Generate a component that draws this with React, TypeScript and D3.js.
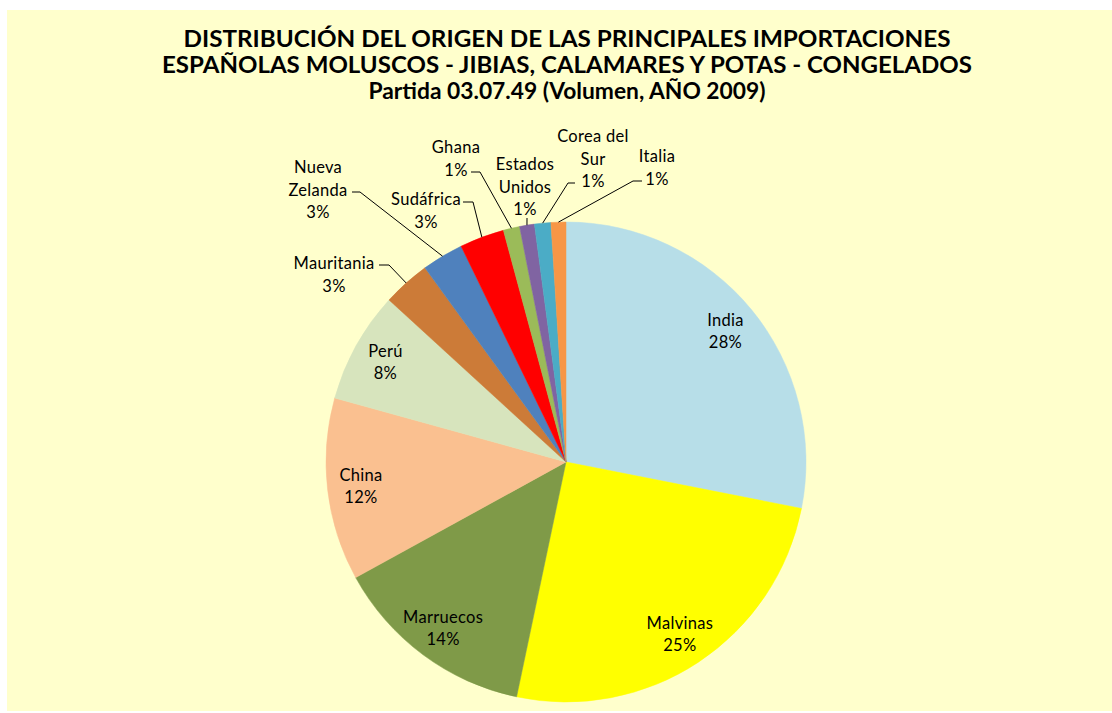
import React from "react";
import * as d3 from "d3";

const titleLines = [
  "DISTRIBUCIÓN DEL ORIGEN DE LAS PRINCIPALES IMPORTACIONES",
  "ESPAÑOLAS MOLUSCOS - JIBIAS, CALAMARES Y POTAS - CONGELADOS",
  "Partida 03.07.49 (Volumen, AÑO 2009)",
];
const titleWidths = [767, 810, 397];

const categories = [
  "India",
  "Malvinas",
  "Marruecos",
  "China",
  "Perú",
  "Mauritania",
  "Nueva Zelanda",
  "Sudáfrica",
  "Ghana",
  "Estados Unidos",
  "Corea del Sur",
  "Italia",
];

const values = [28.1, 25.2, 13.7, 12.3, 7.5, 3.2, 2.8, 3.0, 1.1, 1.0, 1.1, 1.0];

const colors = [
  "#B7DEE8",
  "#FFFF00",
  "#7F9A48",
  "#FAC090",
  "#D7E4BD",
  "#CC7B38",
  "#4F81BD",
  "#FF0000",
  "#9BBB59",
  "#8064A2",
  "#4BACC6",
  "#F79646",
];

// layout (annotation placement only)
const W = 1112;
const H = 713;
const CX = 566;
const CY = 462;
const R = 240;
const FONT = "Lato, 'Liberation Sans', sans-serif";
const LINE_H = 22.5;
const LABEL_SIZE = 16.5;

type OutLabel = { lines: string[]; cx: number; y0: number; elbow: [number, number]; end: [number, number] };
const outside: Record<string, OutLabel> = {
  Mauritania: { lines: ["Mauritania"], cx: 334, y0: 263, elbow: [389, 265], end: [379, 265] },
  "Nueva Zelanda": { lines: ["Nueva", "Zelanda"], cx: 318, y0: 167, elbow: [360, 192], end: [352, 192] },
  "Sudáfrica": { lines: ["Sudáfrica"], cx: 426, y0: 199, elbow: [473, 202], end: [463, 202] },
  Ghana: { lines: ["Ghana"], cx: 456, y0: 147, elbow: [480, 172], end: [471, 172] },
  "Estados Unidos": { lines: ["Estados", "Unidos"], cx: 525, y0: 164, elbow: [527, 218], end: [527, 218] },
  "Corea del Sur": { lines: ["Corea del", "Sur"], cx: 593, y0: 136, elbow: [568, 183], end: [575, 183] },
  Italia: { lines: ["Italia"], cx: 657, y0: 156, elbow: [633, 181], end: [642, 181] },
};

export default function App() {
  const pie = d3.pie<number>().sort(null).value((d) => d);
  const arcs = pie(values);
  const arcGen = d3.arc<d3.PieArcDatum<number>>().innerRadius(0).outerRadius(R);

  const pt = (a: number, r: number): [number, number] => [CX + Math.sin(a) * r, CY - Math.cos(a) * r];

  return (
    <svg
      width={W}
      height={H}
      style={{ position: "fixed", left: 0, top: 0 }}
      xmlns="http://www.w3.org/2000/svg"
    >
      <rect x={0} y={0} width={W} height={H} fill="#ffffff" />
      <rect x={7} y={10} width={W - 7} height={H - 12} fill="#FFFFCC" />
      {titleLines.map((t, i) => (
        <text
          key={i}
          x={567}
          y={47 + i * 26}
          textAnchor="middle"
          fontFamily={FONT}
          fontWeight={700}
          fontSize={23}
          textLength={titleWidths[i]}
          lengthAdjust="spacingAndGlyphs"
          fill="#000"
        >
          {t}
        </text>
      ))}
      <g>
        {arcs.map((a, i) => (
          <path
            key={i}
            d={arcGen(a) || ""}
            transform={`translate(${CX},${CY})`}
            fill={colors[i]}
            stroke={colors[i]}
            strokeWidth={0.5}
          />
        ))}
      </g>
      {arcs.map((a, i) => {
        const name = categories[i];
        const pct = `${Math.round(values[i])}%`;
        const mid = (a.startAngle + a.endAngle) / 2;
        const o = outside[name];
        if (!o) {
          const [x, y] = pt(mid, R * 0.86);
          return (
            <g key={i} fontFamily={FONT} fontSize={LABEL_SIZE} letterSpacing={0.3} fill="#000" textAnchor="middle">
              <text x={x} y={y - 11 + 6}>{name}</text>
              <text x={x} y={y + 11 + 6}>{pct}</text>
            </g>
          );
        }
        const [ax, ay] = pt(mid, R);
        const lines = [...o.lines, pct];
        return (
          <g key={i}>
            <polyline
              points={`${ax},${ay} ${o.elbow[0]},${o.elbow[1]} ${o.end[0]},${o.end[1]}`}
              fill="none"
              stroke="#000"
              strokeWidth={1}
            />
            <g fontFamily={FONT} fontSize={LABEL_SIZE} letterSpacing={0.3} fill="#000" textAnchor="middle">
              {lines.map((l, j) => (
                <text key={j} x={o.cx} y={o.y0 + j * LINE_H + 6}>
                  {l}
                </text>
              ))}
            </g>
          </g>
        );
      })}
    </svg>
  );
}
